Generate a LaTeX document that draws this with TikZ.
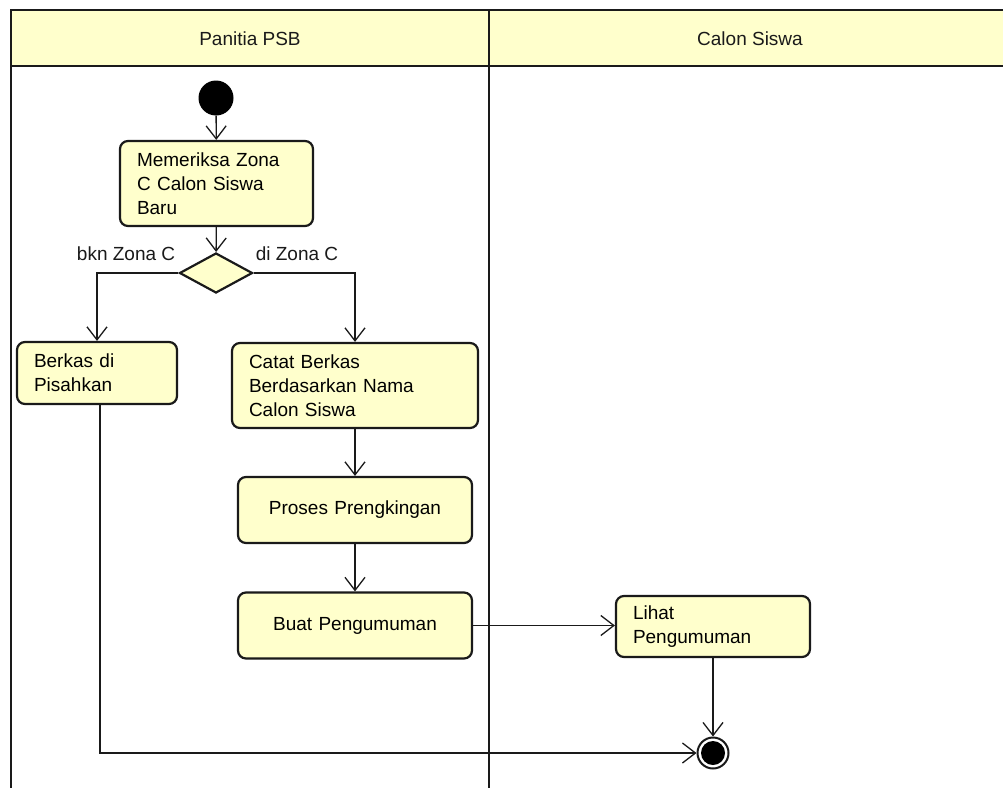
\documentclass[tikz,border=0pt]{standalone}
\usepackage{fontspec}
\setmainfont{Liberation Sans}
\usepackage{xcolor}
\usepackage{tikz}
\usetikzlibrary{calc,arrows.meta,shapes.geometric}
\definecolor{actfill}{HTML}{FFFFCC}
\definecolor{lanefill}{HTML}{FFFFCC}
\definecolor{ink}{HTML}{1A1A1A}
\tikzset{
  lane/.style={draw=ink, line width=2.5pt},
  actbox/.style={draw=ink, line width=2.2pt, fill=actfill, rounded corners=8pt,
    inner xsep=17pt, inner ysep=2pt, align=left},
  midbox/.style={actbox, align=center},
  decision/.style={diamond, draw=ink, line width=2.2pt, fill=actfill, inner sep=0pt,
    minimum width=73pt, minimum height=40pt},
  startdot/.style={circle, fill=black, inner sep=0pt, minimum size=35pt},
  endring/.style={circle, draw=ink, line width=2pt, fill=white, inner sep=0pt, minimum size=31pt},
  flow/.style={draw=ink, line width=1.3pt, -{Straight Barb[length=13pt,width=20pt,line width=1.3pt]}},
  lab/.style={text=ink, inner sep=0pt}
}

\begin{document}
\begin{tikzpicture}[x=1pt, y=-1pt, font=\fontsize{19}{24}\selectfont]
  \useasboundingbox[fill=white] (0,0) rectangle (1003,787);

  % swimlanes
  \fill[lanefill] (11,10) rectangle (1010,66);
  \draw[lane] (1010,10) -- (11,10) -- (11,795);
  \draw[lane] (11,66) -- (1010,66);
  \draw[lane] (489,10) -- (489,795);
  \node[lab] (lanepanitia) at (250,39) {Panitia PSB};
  \node[lab] (lanesiswa) at (750,39) {Calon Siswa};

  % activities
  \node[startdot] (start) at (216,98) {};
  \node[actbox, text width=159pt, minimum height=85pt] (check) at (216.5,183.5)
    {Memeriksa Zona\\C Calon Siswa\\Baru};
  \node[decision] (dec) at (216,273) {};
  \node[actbox, text width=126pt, minimum height=62pt] (berkas) at (97,373)
    {Berkas di\\Pisahkan};
  \node[actbox, text width=212pt, minimum height=85pt] (catat) at (355,385.5)
    {Catat Berkas\\Berdasarkan Nama\\Calon Siswa};
  \node[midbox, text width=200pt, minimum height=66pt] (proses) at (355,510)
    {Proses Prengkingan};
  \node[midbox, text width=200pt, minimum height=66pt] (buat) at (355,625.5)
    {Buat Pengumuman};
  \node[actbox, text width=160pt, minimum height=61pt] (lihat) at (713,626.5)
    {Lihat\\Pengumuman};
  \node[endring] (end) at (713,753) {};
  \fill[black] (end.center) circle (12);

  % guards
  \node[lab, anchor=base east] (nozone) at ($(dec.west)+(-3,-13)$) {bkn Zona C};
  \node[lab, anchor=base west] (inzone) at ($(dec.east)+(2,-13)$) {di Zona C};

  % transitions
  \draw[flow] (start) -- (check);
  \draw[flow] (check) -- (dec);
  \draw[flow] (dec.west) -| (berkas.north);
  \draw[flow] (dec.east) -| (catat.north);
  \draw[flow] (catat) -- (proses);
  \draw[flow] (proses) -- (buat);
  \draw[flow] (buat.east) -- (buat.east -| lihat.west);
  \draw[flow] (lihat) -- (end);
  \draw[flow] ($(berkas.south)+(3,0)$) |- (end.west);
\end{tikzpicture}
\end{document}
